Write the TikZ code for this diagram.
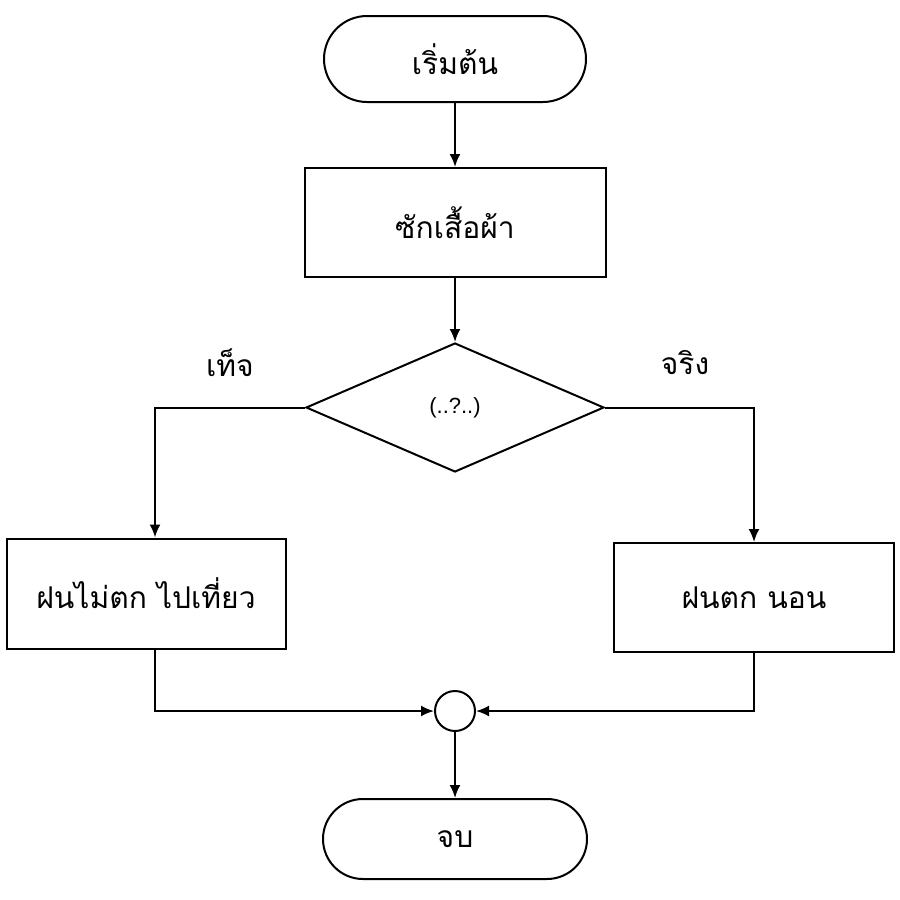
\documentclass[tikz,border=0pt]{standalone}
\usepackage{fontspec}
\newfontfamily\thaifont[Script=Thai]{Loma}
\usetikzlibrary{shapes.geometric,shapes.misc,arrows.meta,calc}
\begin{document}
\begin{tikzpicture}[x=0.5pt,y=-0.5pt,
  line width=1pt,
  every node/.style={font=\thaifont\fontsize{15}{18}\selectfont, inner sep=0pt},
  term/.style={draw, rounded rectangle},
  proc/.style={draw, rectangle},
  dec/.style={draw, diamond},
  joint/.style={draw, circle},
  arr/.style={-{Latex[length=6.5pt,width=5.5pt]}}]
\useasboundingbox (0,0) rectangle (900,900);
\node[term, minimum width=131pt, minimum height=43pt] (start) at (455,59) {เริ่มต้น};
\node[proc, minimum width=150.5pt, minimum height=54.5pt] (wash) at (455,222.5) {ซักเสื้อผ้า};
\node[dec, minimum width=149pt, minimum height=64.5pt] (dia) at (455,407.5) {\fontspec{Liberation Sans}\fontsize{11}{13}\selectfont(..?..)};
\node[proc, minimum width=139.5pt, minimum height=55pt] (lr) at (146,593.5) {ฝนไม่ตก ไปเที่ยว};
\node[proc, minimum width=140pt, minimum height=54.5pt] (rr) at (754,597.5) {ฝนตก นอน};
\node[joint, minimum size=20pt] (jn) at (455,711) {};
\node[term, minimum width=132pt, minimum height=40pt] (end) at (455,839) {จบ};
\node (lf) at (230,363) {เท็จ};
\node (lt) at (685,363) {จริง};
\coordinate (lin) at ($(lr.north)+(9,0)$);
\coordinate (lout) at ($(lr.south)+(9,0)$);
\draw[arr] (start) -- (wash);
\draw[arr] (wash) -- (dia);
\draw[arr] (dia.west) -| (lin);
\draw[arr] (dia.east) -| (rr.north);
\draw[arr] (lout) |- (jn.west);
\draw[arr] (rr.south) |- (jn.east);
\draw[arr] (jn) -- (end);
\end{tikzpicture}
\end{document}
